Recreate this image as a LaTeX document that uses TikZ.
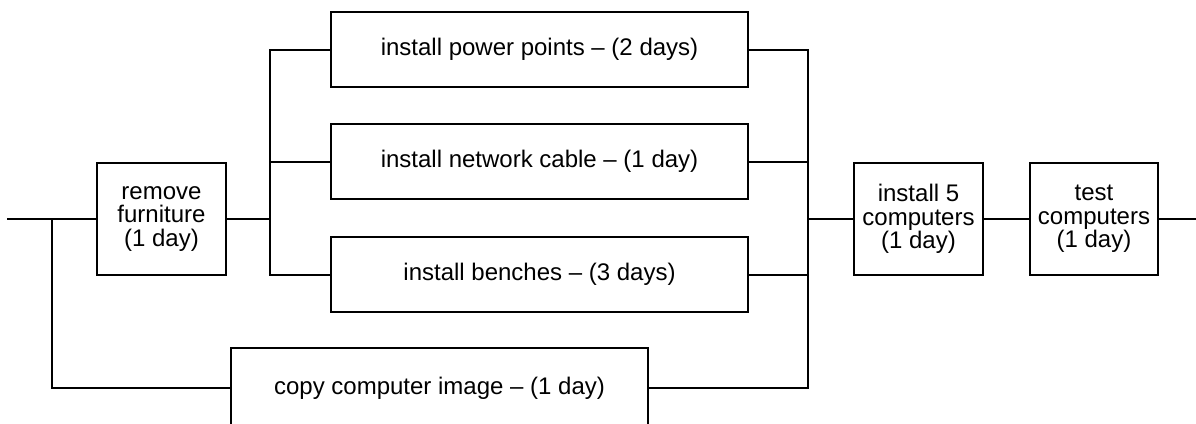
\documentclass[tikz,border=0pt]{standalone}
\usepackage{fontspec}
\setmainfont{Liberation Sans}
\begin{document}
\begin{tikzpicture}[x=1pt,y=-1pt,
  line width=2pt,
  task/.style={draw, fill=white, align=center, inner sep=0pt,
    font=\fontsize{24}{23.6}\selectfont},
  sqtask/.style={task, minimum width=129pt, minimum height=112pt},
  widetask/.style={task, minimum width=417pt, minimum height=75pt}]
\clip (0,0) rectangle (1196,423);
\coordinate (start) at (7,219);
\coordinate (j1) at (52,219);
\coordinate (j2) at (270,219);
\coordinate (j3) at (808,219);
\coordinate (finish) at (1198,219);
\node[sqtask] (rf) at (161.5,219) {remove\\furniture\\(1 day)};
\node[widetask] (pp) at (539.5,49.5) {install power points -- (2 days)};
\node[widetask] (nc) at (539.5,161.5) {install network cable -- (1 day)};
\node[widetask] (ib) at (539.5,274.5) {install benches -- (3 days)};
\node[widetask, minimum height=80pt] (cc) at (439.5,388) {copy computer image -- (1 day)};
\node[sqtask] (i5) at (918.5,219) {install 5\\computers\\(1 day)};
\node[sqtask, minimum width=128pt] (tc) at (1094,219) {test\\computers\\(1 day)};
\draw (start) -- (rf.west);
\draw (j1) |- (cc.west);
\draw (rf.east) -- (j2);
\draw (pp.west) -| (j2) |- (ib.west);
\draw (j2 |- nc.west) -- (nc.west);
\draw (pp.east) -| (j3) |- (cc.east);
\draw (nc.east) -- (nc.east -| j3);
\draw (ib.east) -- (ib.east -| j3);
\draw (j3) -- (i5.west);
\draw (i5.east) -- (tc.west);
\draw (tc.east) -- (finish);
\end{tikzpicture}
\end{document}
